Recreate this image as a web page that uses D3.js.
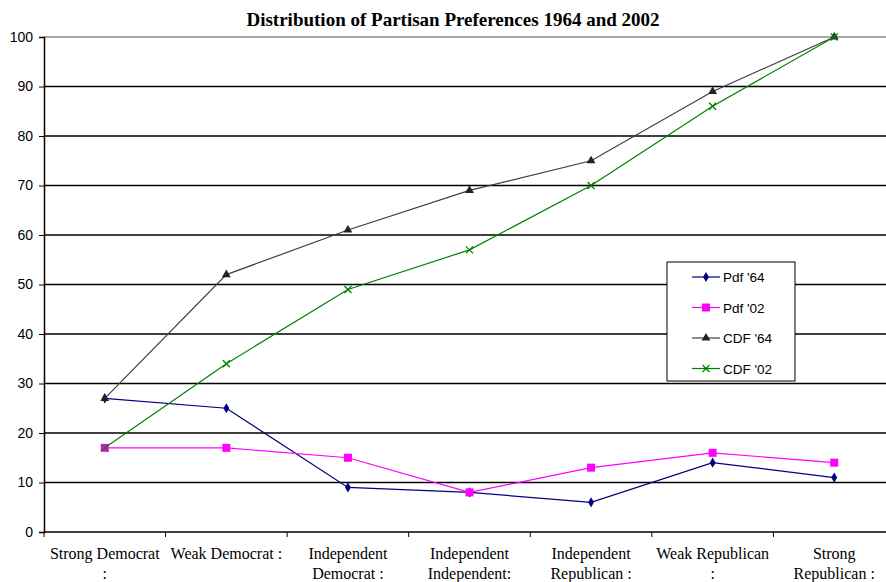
<!DOCTYPE html>
<html>
<head>
<meta charset="utf-8">
<script src="https://cdn.jsdelivr.net/npm/d3@7"></script>
<style>
  body { margin: 0; background: #fff; }
  svg { display: block; }
</style>
</head>
<body>
<div id="chart"></div>
<script>
// categories, split into the lines they wrap onto
var categories = ["Strong Democrat :", "Weak Democrat :", "Independent Democrat :", "Independent Independent:",
                  "Independent Republican :", "Weak Republican :", "Strong Republican :"];
var tickLines = [["Strong Democrat", ":"], ["Weak Democrat :"], ["Independent", "Democrat :"],
                 ["Independent", "Independent:"], ["Independent", "Republican :"],
                 ["Weak Republican", ":"], ["Strong", "Republican :"]];
var pdf64 = [27, 25, 9, 8, 6, 14, 11];
var pdf02 = [17, 17, 15, 8, 13, 16, 14];
var cdf64 = [27, 52, 61, 69, 75, 89, 100];
var cdf02 = [17, 34, 49, 57, 70, 86, 100];
var yTicks = [0, 10, 20, 30, 40, 50, 60, 70, 80, 90, 100];

var series = [
  {name: "Pdf '64", values: pdf64, color: "#000080", marker: "diamond"},
  {name: "Pdf '02", values: pdf02, color: "#ff00ff", marker: "square"},
  {name: "CDF '64", values: cdf64, color: "#404040", marker: "triangle"},
  {name: "CDF '02", values: cdf02, color: "#008000", marker: "x"}
];

var W = 886, H = 582;
var svg = d3.select("#chart").append("svg").attr("width", W).attr("height", H);

var x = d3.scaleBand().domain(categories).range([44, 895]);
var y = d3.scaleLinear().domain([0, 100]).range([532, 37]);

// title
svg.append("text")
  .attr("x", 453).attr("y", 26)
  .attr("text-anchor", "middle")
  .style("font-family", "'Liberation Serif', 'Times New Roman', serif")
  .style("font-weight", "bold").style("font-size", "19px")
  .text("Distribution of Partisan Preferences 1964 and 2002");

// gridlines
svg.append("g").selectAll("line").data(yTicks.filter(function(d){ return d > 0; }))
  .join("line")
  .attr("x1", 44).attr("x2", W)
  .attr("y1", function(d){ return y(d); }).attr("y2", function(d){ return y(d); })
  .attr("stroke", function(d){ return d === 100 ? "#888" : "#000"; })
  .attr("stroke-width", 1.5);

// y axis
var yAxis = svg.append("g").attr("transform", "translate(44,0)")
  .call(d3.axisLeft(y).tickValues(yTicks).tickSize(5).tickPadding(6));
yAxis.select(".domain").attr("stroke", "#000").attr("stroke-width", 1.5);
yAxis.selectAll("text")
  .style("font-family", "'Liberation Sans', Arial, sans-serif").style("font-size", "14px").attr("fill", "#000");

// x axis: ticks on band boundaries
var xAxis = svg.append("g").attr("transform", "translate(0,532)");
xAxis.append("line").attr("x1", 44).attr("x2", W).attr("stroke", "#000").attr("stroke-width", 1.5);
xAxis.selectAll("line.tk").data(categories).join("line").attr("class", "tk")
  .attr("x1", function(d){ return x(d); }).attr("x2", function(d){ return x(d); })
  .attr("y1", 0).attr("y2", 5).attr("stroke", "#000");
xAxis.selectAll("text.lab").data(categories).join("text").attr("class", "lab")
  .attr("text-anchor", "middle")
  .attr("transform", function(d){ return "translate(" + (x(d) + x.bandwidth() / 2) + ",27)"; })
  .style("font-family", "'Liberation Serif', 'Times New Roman', serif").style("font-size", "16px")
  .each(function(d, i){
    var t = d3.select(this);
    tickLines[i].forEach(function(s, j){
      t.append("tspan").attr("x", 0).attr("dy", j === 0 ? 0 : 20).text(s);
    });
  });

function cx(i){ return x(categories[i]) + x.bandwidth() / 2; }

function drawMarker(g, type, color, px, py){
  if (type === "diamond") {
    g.append("path").attr("d", d3.symbol(d3.symbolDiamond, 30)())
      .attr("transform", "translate(" + px + "," + py + ")").attr("fill", color);
  } else if (type === "square") {
    g.append("rect").attr("x", px - 4).attr("y", py - 4).attr("width", 8).attr("height", 8).attr("fill", color);
  } else if (type === "triangle") {
    g.append("path").attr("d", d3.symbol(d3.symbolTriangle, 34)())
      .attr("transform", "translate(" + px + "," + py + ")").attr("fill", "#222");
  } else {
    g.append("path").attr("d", "M-3.5,-3.5L3.5,3.5M-3.5,3.5L3.5,-3.5")
      .attr("transform", "translate(" + px + "," + py + ")").attr("stroke", color).attr("stroke-width", 1.3);
  }
}

var line = d3.line().x(function(d, i){ return cx(i); }).y(function(d){ return y(d); });

series.forEach(function(s){
  var g = svg.append("g");
  g.append("path").attr("d", line(s.values)).attr("fill", "none")
    .attr("stroke", s.color).attr("stroke-width", 1.2);
  s.values.forEach(function(v, i){ drawMarker(g, s.marker, s.color, cx(i), y(v)); });
});

// legend
var lg = svg.append("g").attr("transform", "translate(667,262)");
lg.append("rect").attr("width", 128).attr("height", 119).attr("fill", "#fff").attr("stroke", "#000");
series.forEach(function(s, i){
  var ly = 15 + i * 30.5;
  lg.append("line").attr("x1", 25).attr("x2", 53).attr("y1", ly).attr("y2", ly)
    .attr("stroke", s.color).attr("stroke-width", 1.2);
  drawMarker(lg, s.marker, s.color, 39, ly);
  lg.append("text").attr("x", 56).attr("y", ly + 5)
    .style("font-family", "'Liberation Sans', Arial, sans-serif").style("font-size", "13.5px")
    .text(s.name);
});
</script>
</body>
</html>
